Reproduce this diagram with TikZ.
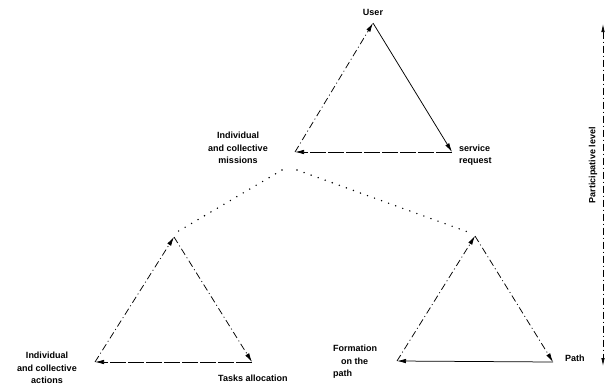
\documentclass[tikz,border=0pt]{standalone}
\usepackage{fontspec}
\setmainfont{Liberation Sans}
\usetikzlibrary{arrows.meta}
\begin{document}
\begin{tikzpicture}[x=1pt,y=-1pt,
  lbl/.style={font=\fontsize{9}{12.5}\selectfont\bfseries, inner sep=0pt, align=center},
  edge/.style={line width=0.75pt},
  dd/.style={edge, dash pattern=on 7pt off 3pt on 1pt off 3pt},
  ld/.style={edge, dash pattern=on 16pt off 2pt},
  solidedge/.style={edge},
  dots/.style={line width=1.6pt, line cap=round, dash pattern=on 0pt off 7.5pt},
  tip/.style={-{Latex[length=9pt,width=4.5pt]}},
  dtip/.style={{Latex[length=8pt,width=3.5pt]}-{Latex[length=8pt,width=3.5pt]}}
]
\useasboundingbox (0,0) rectangle (614,389);
% top triangle
\coordinate (TA) at (373,23);
\coordinate (TL) at (295,152);
\coordinate (TR) at (452,152);
% bottom left triangle
\coordinate (LA) at (174,237);
\coordinate (LL) at (95,362);
\coordinate (LR) at (252,362);
% bottom right triangle
\coordinate (RA) at (475,236);
\coordinate (RL) at (397,361);
\coordinate (RR) at (553,362);
% dotted links
\coordinate (d1) at (282,170);
\coordinate (d2) at (177,232);
\coordinate (d3) at (297,170);
\coordinate (d4) at (468,232);
% level arrow
\coordinate (vt) at (603,24);
\coordinate (vb) at (603,366);

\draw[dd,tip] (TL) -- (TA);
\draw[solidedge,tip] (TA) -- (TR);
\draw[ld,tip] (TR) -- (TL);

\draw[dd,tip] (LL) -- (LA);
\draw[dd,tip] (LA) -- (LR);
\draw[ld,tip] (LR) -- (LL);

\draw[dd,tip] (RL) -- (RA);
\draw[dd,tip] (RA) -- (RR);
\draw[solidedge,tip] (RR) -- (RL);

\draw[dots] (d1) -- (d2);
\draw[dots] (d3) -- (d4);

\draw[dd,dtip] (vt) -- (vb);

\node[lbl] (user) at (373,12) {User};
\node[lbl] (missions) at (238,148) {Individual\\and collective\\missions};
\node[lbl, align=left, anchor=west] (service) at (459,155) {service\\request};
\node[lbl] (actions) at (47,368) {Individual\\and collective\\actions};
\node[lbl, anchor=west] (tasks) at (218,378) {Tasks allocation};
\node[lbl, align=left, anchor=north west] (formation) at (333,345) {Formation\\\hspace{8pt}on the\\path};
\node[lbl, anchor=west] (path) at (565,358) {Path};
\node[lbl, rotate=90] (level) at (593,165) {Participative level};
\end{tikzpicture}
\end{document}
